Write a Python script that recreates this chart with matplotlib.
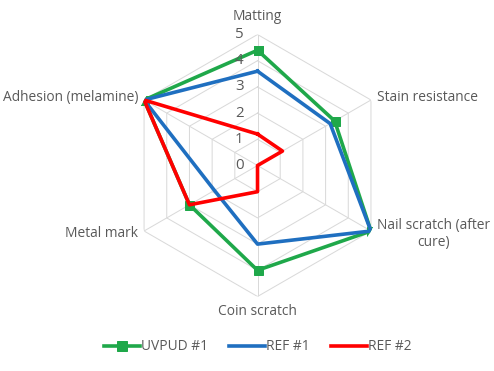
import numpy as np
import matplotlib.pyplot as plt
from matplotlib.lines import Line2D

categories = ['Matting', 'Stain resistance', 'Nail scratch (after\ncure)',
              'Coin scratch', 'Metal mark', 'Adhesion (melamine)']
uvpud1 = [4.4, 3.4, 5, 4, 3, 5]
ref1 = [3.6, 3.2, 5, 3, 1.9, 5]
ref2 = [1.2, 1.1, 0, 1, 3, 5]
ticks = [0, 1, 2, 3, 4, 5]

green = '#1fa84a'
blue = '#1f6fc0'
red = '#ff0000'
grey = '#595959'

plt.rcParams['font.family'] = ['Open Sans', 'DejaVu Sans']

fig = plt.figure(figsize=(494 / 72, 371 / 72), dpi=72)
ax = fig.add_axes([0.2561, 0.2008, 0.5304, 0.7062], projection='polar')
ax.set_theta_zero_location('N')
ax.set_theta_direction(-1)

angles = np.linspace(0, 2 * np.pi, len(categories), endpoint=False)
closed = np.append(angles, angles[0])

# hexagon grid
for t in ticks[1:]:
    ax.plot(closed, [t] * len(closed), color='#d9d9d9', lw=1, zorder=1)
for a in angles:
    ax.plot([a, a], [0, 5], color='#d9d9d9', lw=1, zorder=1)

ax.set_ylim(0, 5)
ax.grid(False)
ax.set_xticks([])
ax.set_yticks([])
ax.spines['polar'].set_visible(False)

def close(v):
    return v + v[:1]

ax.plot(closed, close(uvpud1), color=green, lw=3.6, marker='s', ms=9, zorder=3)
ax.plot(closed, close(ref1), color=blue, lw=3.6, zorder=4)
ax.plot(closed, close(ref2), color=red, lw=3.6, zorder=5)

for t in ticks:
    ax.annotate(str(t), xy=(0, t), xytext=(-14, 0), textcoords='offset points',
                ha='right', va='center', fontsize=15, color=grey)

offsets = [(0, 18, 'center', 'center'), (6, 3, 'left', 'center'),
           (6, -3, 'left', 'center'), (0, -15, 'center', 'center'),
           (-6, -2, 'right', 'center'), (-6, 3, 'right', 'center')]
for a, label, (dx, dy, ha, va) in zip(angles, categories, offsets):
    ax.annotate(label, xy=(a, 5), xytext=(dx, dy), textcoords='offset points',
                ha=ha, va=va, fontsize=13.8, color=grey, multialignment='center')

handles = [Line2D([], [], color=green, lw=3.6, marker='s', ms=10),
           Line2D([], [], color=blue, lw=3.6),
           Line2D([], [], color=red, lw=3.6)]
fig.legend(handles, ['UVPUD #1', 'REF #1', 'REF #2'], loc='center',
           bbox_to_anchor=(0.522, 0.065), ncol=3, frameon=False, fontsize=13.8,
           handlelength=2.6, handletextpad=0.1, columnspacing=1.5,
           labelcolor=grey)

fig.savefig('out.png', dpi=72)
